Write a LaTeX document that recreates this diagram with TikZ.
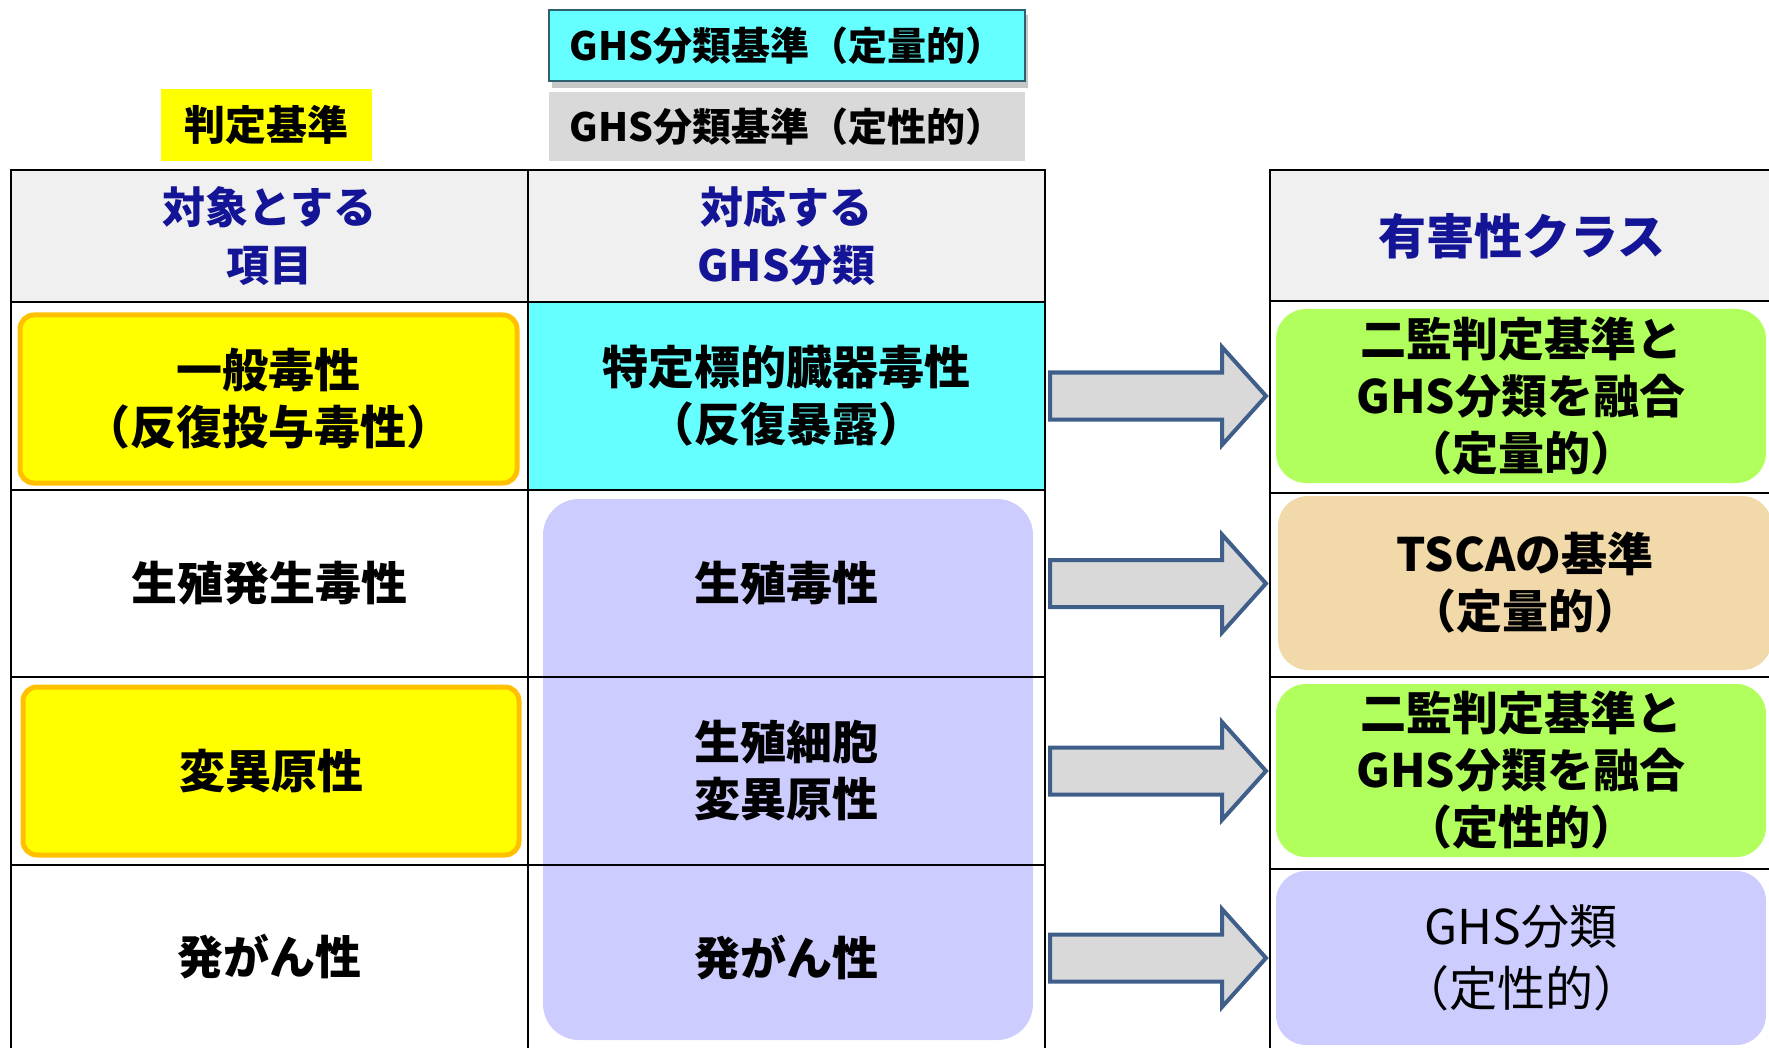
\documentclass[tikz,border=0pt]{standalone}
\usepackage{fontspec}
\setmainfont{Noto Sans CJK JP}
\usetikzlibrary{calc}
\definecolor{hdrgray}{HTML}{F0F0F0}
\definecolor{hdrblue}{HTML}{141496}
\definecolor{ylw}{HTML}{FFFF00}
\definecolor{orng}{HTML}{FFC000}
\definecolor{cyn}{HTML}{66FFFF}
\definecolor{lav}{HTML}{CCCCFF}
\definecolor{grn}{HTML}{B0FF5C}
\definecolor{tan}{HTML}{F1D9A9}
\definecolor{lblgray}{HTML}{D9D9D9}
\definecolor{arrgray}{HTML}{D9D9D9}
\definecolor{arrblue}{HTML}{3F5F8A}
\definecolor{tealedge}{HTML}{2F6070}
\begin{document}
\begin{tikzpicture}[x=1pt,y=-1pt,
  cellbox/.style={rectangle,inner sep=0pt,outer sep=0pt,align=center},
  hdrtext/.style={text=hdrblue,font=\fontsize{43}{58}\selectfont\bfseries},
  bodytext/.style={font=\fontsize{46}{57}\selectfont\bfseries},
  ybox/.style={cellbox,fill=ylw,draw=orng,line width=5pt,rounded corners=14pt},
  rbox/.style={cellbox,rounded corners=30pt},
  gridline/.style={line width=2.8pt,black},
  blockarrow/.style={draw=arrblue,fill=arrgray,line width=4pt,line join=miter},
  lbltext/.style={font=\fontsize{39}{46}\selectfont\bfseries}]
\useasboundingbox (0,0) rectangle (1769,1048);
\clip (0,0) rectangle (1769,1048);
% header fills
\fill[hdrgray] (11,170) rectangle (1045,302);
\fill[hdrgray] (1270,170) rectangle (1790,301);
% cyan cell
\fill[cyn] (528,302) rectangle (1045,490);
% lavender middle block
\fill[lav,rounded corners=36pt] (543,499) rectangle (1033,1040);
% cell nodes
\node[cellbox,minimum width=517pt,minimum height=132pt,hdrtext] (H1) at (269.5,236) {対象とする\\項目};
\node[cellbox,minimum width=517pt,minimum height=132pt,hdrtext] (H2) at (786.5,236) {対応する\\GHS分類};
\node[cellbox,minimum width=499pt,minimum height=131pt,text=hdrblue,font=\fontsize{48}{58}\selectfont\bfseries] (H3) at (1522,236) {有害性クラス};
% left column
\node[ybox,minimum width=497pt,minimum height=168pt,bodytext] (L1) at (268.5,399) {一般毒性\\（反復投与毒性）};
\node[cellbox,minimum width=517pt,minimum height=187pt,bodytext] (L2) at (269.5,583.5) {生殖発生毒性};
\node[ybox,minimum width=496pt,minimum height=168pt,bodytext] (L3) at (271,771) {変異原性};
\node[cellbox,minimum width=517pt,minimum height=183pt,bodytext] (L4) at (269.5,956.5) {発がん性};
% middle column
\node[cellbox,minimum width=517pt,minimum height=188pt,bodytext] (M1) at (786.5,396) {特定標的臓器毒性\\（反復暴露）};
\node[cellbox,minimum width=517pt,minimum height=187pt,bodytext] (M2) at (786.5,583.5) {生殖毒性};
\node[cellbox,minimum width=517pt,minimum height=188pt,bodytext] (M3) at (786.5,771) {生殖細胞\\変異原性};
\node[cellbox,minimum width=517pt,minimum height=183pt,bodytext] (M4) at (786.5,958) {発がん性};
% right column
\node[rbox,fill=grn,minimum width=490pt,minimum height=174pt,bodytext] (R1) at (1521,396) {二監判定基準と\\GHS分類を融合\\（定量的）};
\node[rbox,fill=tan,minimum width=494pt,minimum height=174pt,bodytext,text width=490pt] (R2) at (1525,583) {TSCAの基準\\（定量的）};
\node[rbox,fill=grn,minimum width=490pt,minimum height=173pt,bodytext] (R3) at (1521,770.5) {二監判定基準と\\GHS分類を融合\\（定性的）};
\node[rbox,fill=lav,minimum width=490pt,minimum height=174pt,font=\fontsize{48}{62}\selectfont] (R4) at (1521,958) {GHS分類\\（定性的）};
% grid lines, left table
\draw[gridline] (11,1070) -- (11,170) -- (1045,170) -- (1045,1070);
\draw[gridline] (528,170) -- (528,1070);
\foreach \yy in {302,490,677,865} \draw[gridline] (11,\yy) -- (1045,\yy);
% grid lines, right table
\draw[gridline] (1270,1070) -- (1270,170) -- (1790,170);
\foreach \yy in {301,493,677,869} \draw[gridline] (1270,\yy) -- (1790,\yy);
% block arrows from middle column to hazard classes
\foreach \m in {M1,M2,M3,M4}{
  \draw[blockarrow] ($(\m.east)+(5,-23.5)$) -- ($(\m.east)+(177,-23.5)$) -- ($(\m.east)+(177,-49)$)
    -- ($(\m.east)+(221,0)$) -- ($(\m.east)+(177,49)$) -- ($(\m.east)+(177,23.5)$)
    -- ($(\m.east)+(5,23.5)$) -- cycle;
}
% top labels
\node[cellbox,fill=ylw,minimum width=211pt,minimum height=72pt,font=\fontsize{41}{46}\selectfont\bfseries] (J) at (266.5,125) {判定基準};
\fill[black!22] (552,15) rectangle (1028,88);
\node[cellbox,fill=cyn,draw=tealedge,line width=2pt,minimum width=476pt,minimum height=71pt,lbltext] (Q1) at (787,45.5) {GHS分類基準（定量的）};
\node[cellbox,fill=lblgray,minimum width=476pt,minimum height=69pt,lbltext] (Q2) at (787,126.5) {GHS分類基準（定性的）};
\end{tikzpicture}
\end{document}
